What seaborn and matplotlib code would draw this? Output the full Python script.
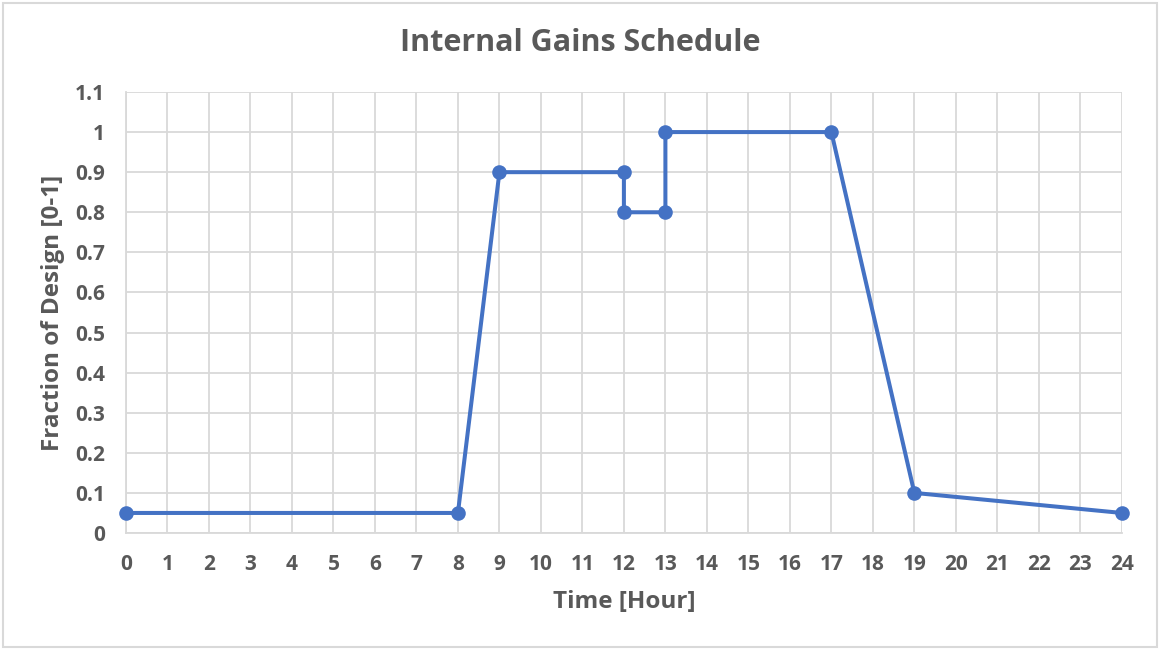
import pandas as pd
import seaborn as sns
import matplotlib.pyplot as plt
import numpy as np

# schedule points (hour, fraction of design)
hours = [0, 8, 9, 12, 12, 13, 13, 17, 19, 24]
fraction = [0.05, 0.05, 0.9, 0.9, 0.8, 0.8, 1.0, 1.0, 0.1, 0.05]

x_ticks = list(range(0, 25))
y_ticks = [round(0.1 * i, 1) for i in range(0, 12)]
y_labels = ['0', '0.1', '0.2', '0.3', '0.4', '0.5', '0.6', '0.7', '0.8', '0.9', '1', '1.1']

sns.set_theme(style='white')
plt.rcParams['font.family'] = ['Open Sans', 'DejaVu Sans']
txt = '#595959'
grid_c = '#d9d9d9'
blue = '#4472c4'

df = pd.DataFrame({'Hour': hours, 'Fraction': fraction})

fig = plt.figure(figsize=(11.6, 6.5), dpi=100)
ax = fig.add_axes([0.1086, 0.18, 0.8585, 0.6785])

sns.lineplot(data=df, x='Hour', y='Fraction', sort=False, estimator=None,
             color=blue, linewidth=2.9, marker='o', markersize=10.5,
             markeredgewidth=0, ax=ax, clip_on=False, zorder=5)

ax.set_xlim(0, 24)
ax.set_ylim(0, 1.1)
ax.set_xticks(x_ticks)
ax.set_yticks(y_ticks)
ax.set_yticklabels(y_labels)
ax.grid(True, color=grid_c, linewidth=1.3)
ax.set_axisbelow(True)
for s in ['top', 'right']:
    ax.spines[s].set_visible(False)
for s in ['left', 'bottom']:
    ax.spines[s].set_color(grid_c)
    ax.spines[s].set_linewidth(1.3)
ax.tick_params(axis='both', which='major', length=6, width=1.3, color=grid_c,
               labelsize=15, labelcolor=txt)
ax.tick_params(axis='x', pad=9)
ax.tick_params(axis='y', pad=9)
for lab in ax.get_xticklabels() + ax.get_yticklabels():
    lab.set_fontweight('bold')

ax.set_xlabel('Time [Hour]', fontsize=17.5, fontweight='bold', color=txt, labelpad=11)
ax.set_ylabel('Fraction of Design [0-1]', fontsize=17.5, fontweight='bold', color=txt, labelpad=7)
fig.suptitle('Internal Gains Schedule', x=0.5, y=0.934, va='center',
             fontsize=22, fontweight='bold', color=txt)

# outer chart border
fig.patches.append(plt.Rectangle((0.003, 0.004), 0.994, 0.992, transform=fig.transFigure,
                                 fill=False, edgecolor=grid_c, linewidth=1.5))

plt.savefig('out.png', dpi=100)
